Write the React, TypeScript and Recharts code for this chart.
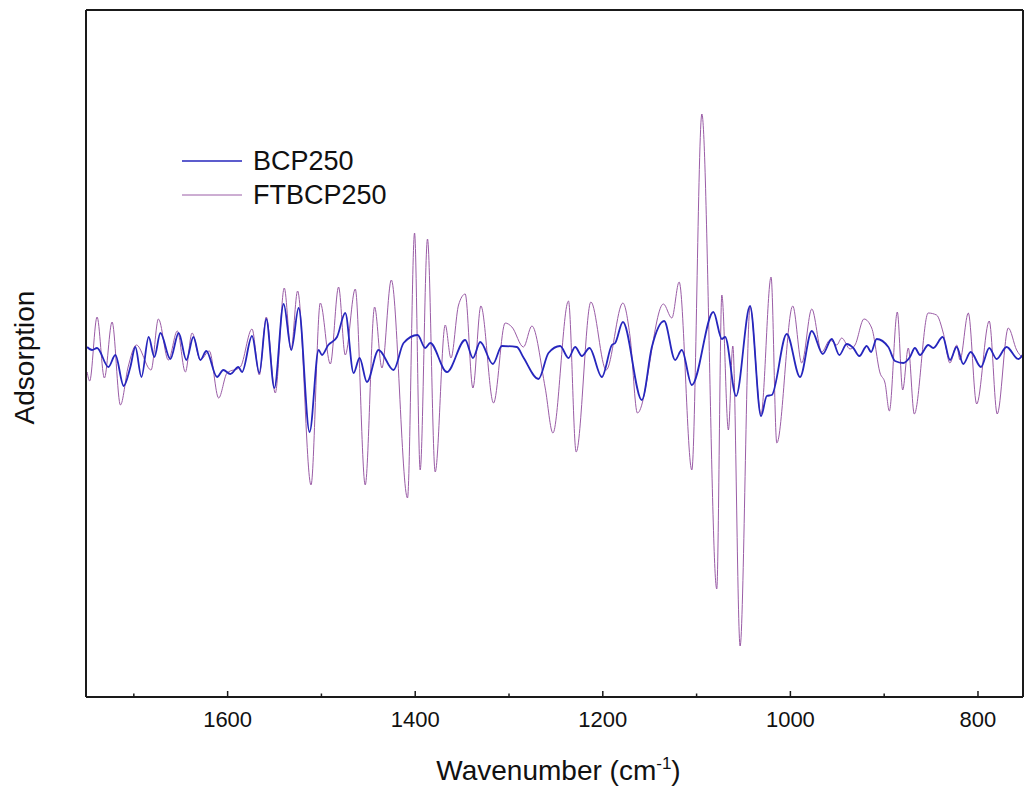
import React from 'react';
import { LineChart, Line, XAxis, YAxis, Legend } from 'recharts';

// BCP250 spectrum (wavenumber in cm^-1, relative absorption)
const bcpWavenumbers = [
  1749.8, 1744.5, 1739.2, 1727.1, 1719.7, 1710.8, 1703.7, 1698.4, 1691.9, 1684.2,
  1678.1, 1671.7, 1661.1, 1652.2, 1644.0, 1636.5, 1629.1, 1622.7, 1611.3, 1604.6,
  1597.1, 1588.6, 1584.6, 1574.0, 1566.2, 1558.8, 1550.2, 1540.3, 1532.1, 1524.3,
  1512.6, 1503.0, 1499.4, 1492.7, 1483.4, 1474.6, 1465.7, 1459.3, 1451.5, 1439.1,
  1423.1, 1412.4, 1397.5, 1389.3, 1384.0, 1366.2, 1346.7, 1338.5, 1330.7, 1317.2,
  1307.6, 1291.6, 1284.9, 1268.6, 1257.9, 1245.5, 1236.6, 1229.5, 1222.3, 1214.2,
  1201.0, 1190.3, 1186.8, 1178.6, 1158.4, 1147.7, 1134.6, 1122.9, 1115.8, 1105.1,
  1082.1, 1073.1, 1069.6, 1057.9, 1043.0, 1031.3, 1025.2, 1019.9, 1003.9, 989.7,
  977.2, 965.5, 955.9, 947.8, 940.0, 932.9, 926.5, 918.6, 914.0, 908.0,
  895.6, 888.5, 879.6, 872.5, 867.2, 861.8, 853.0, 847.6, 837.6, 829.8,
  822.7, 815.7, 807.8, 796.8, 788.0, 780.1, 769.5, 757.1, 752.4,
];
const bcpValues = [
  0.03, 0.0, 0.02, -0.17, -0.05, -0.36, -0.17, 0.03, -0.27, 0.13,
  -0.07, 0.17, -0.09, 0.17, -0.1, 0.13, -0.1, -0.01, -0.27, -0.2,
  -0.24, -0.17, -0.22, 0.14, -0.23, 0.31, -0.38, 0.46, 0.0, 0.42,
  -0.82, 0.0, -0.05, 0.05, 0.13, 0.37, -0.23, -0.08, -0.32, 0.0,
  -0.2, 0.07, 0.15, 0.02, 0.07, -0.22, 0.1, -0.08, 0.08, -0.14,
  0.04, 0.03, -0.07, -0.29, -0.03, 0.04, -0.08, 0.03, -0.06, 0.02,
  -0.27, 0.05, 0.07, 0.28, -0.5, 0.03, 0.29, -0.1, 0.0, -0.35,
  0.38, 0.11, 0.13, -0.46, 0.44, -0.66, -0.46, -0.45, 0.16, -0.27,
  0.19, -0.04, 0.11, -0.05, 0.06, 0.02, -0.06, 0.04, -0.02, 0.11,
  0.03, -0.11, -0.13, -0.07, 0.02, -0.05, 0.05, 0.02, 0.13, -0.1,
  0.03, -0.14, -0.02, -0.17, 0.02, -0.09, 0.03, -0.09, -0.05,
];

// FTBCP250 spectrum
const ftWavenumbers = [
  1749.8, 1747.1, 1739.2, 1731.4, 1723.2, 1714.3, 1706.1, 1697.3, 1681.6, 1673.8,
  1663.2, 1653.6, 1645.1, 1637.9, 1629.1, 1619.5, 1609.6, 1600.6, 1586.5, 1574.0,
  1566.2, 1558.8, 1549.2, 1539.6, 1532.4, 1525.4, 1511.1, 1501.2, 1490.5, 1481.7,
  1474.6, 1463.9, 1453.3, 1443.3, 1435.5, 1425.5, 1408.2, 1400.7, 1394.7, 1386.9,
  1378.7, 1368.0, 1361.9, 1353.8, 1346.7, 1338.5, 1330.0, 1316.5, 1304.1, 1296.9,
  1284.6, 1275.6, 1261.4, 1253.2, 1236.6, 1228.4, 1212.7, 1196.4, 1178.6, 1170.9,
  1163.1, 1135.4, 1126.4, 1118.6, 1105.1, 1094.4, 1078.5, 1073.1, 1066.1, 1061.4,
  1053.6, 1043.0, 1031.3, 1020.6, 1014.5, 997.5, 987.9, 977.2, 966.6, 957.7,
  950.6, 945.3, 936.4, 931.1, 921.5, 913.3, 904.4, 899.1, 894.5, 886.0,
  880.3, 874.3, 867.9, 853.1, 844.2, 837.0, 829.9, 822.7, 819.2, 810.3,
  801.4, 788.0, 779.5, 767.7, 758.8, 752.4,
];
const ftValues = [
  -0.22, -0.31, 0.33, -0.28, 0.28, -0.55, -0.17, 0.05, -0.2, 0.31,
  -0.1, 0.19, -0.22, 0.17, -0.1, -0.01, -0.48, -0.23, -0.17, 0.21,
  -0.25, 0.33, -0.43, 0.62, 0.0, 0.59, -1.35, 0.47, -0.14, 0.63,
  -0.05, 0.61, -1.35, 0.43, -0.18, 0.7, -1.48, 1.17, -1.2, 1.11,
  -1.22, 0.25, -0.08, 0.45, 0.56, -0.38, 0.44, -0.53, 0.27, 0.23,
  0.03, 0.24, -0.38, -0.83, 0.49, -1.02, 0.48, -0.2, 0.47, 0.13,
  -0.63, 0.46, 0.32, 0.68, -1.2, 2.36, -2.39, 0.55, -0.8, 0.04,
  -2.96, 0.43, -0.64, 0.73, -0.93, 0.44, -0.13, 0.41, -0.02, 0.1,
  0.05, 0.12, 0.01, 0.05, 0.31, 0.22, -0.23, -0.33, -0.61, 0.38,
  -0.4, 0.02, -0.64, 0.37, 0.35, 0.17, -0.13, 0.05, -0.1, 0.37,
  -0.54, 0.29, -0.64, 0.22, 0.0, -0.08,
];

const xTicks = [1700, 1600, 1500, 1400, 1300, 1200, 1100, 1000, 900, 800];
const labeledTicks = [1600, 1400, 1200, 1000, 800];
const xDomain = [752, 1751];
const yDomain = [-3.47, 3.4];
const seriesNames = ['BCP250', 'FTBCP250'];
const seriesColors = ['#2626bd', '#9a5ca6'];
const seriesWidths = [1.8, 1];

const bcpData = bcpWavenumbers.map((wn, i) => ({ wn, v: bcpValues[i] }));
const ftData = ftWavenumbers.map((wn, i) => ({ wn, v: ftValues[i] }));

const FONT = '"Liberation Sans", Arial, sans-serif';
const AXIS = '#1a1a1a';

const XTick = (props: any) => {
  const { x, y, payload } = props;
  const major = labeledTicks.includes(payload.value);
  return (
    <g>
      <line x1={x} x2={x} y1={y} y2={y - (major ? 6 : 3.5)} stroke={AXIS} strokeWidth={1.5} />
      {major && (
        <text x={x} y={y + 30} textAnchor="middle" fontSize={22} fill="#111" fontFamily={FONT}>
          {payload.value}
        </text>
      )}
    </g>
  );
};

const XTitle = (props: any) => {
  const vb = props.viewBox || { x: 86, y: 697, width: 937 };
  const cx = vb.x + vb.width / 2 + 4;
  return (
    <text x={cx} y={vb.y + 83} textAnchor="middle" fontSize={28} fill="#111" fontFamily={FONT}>
      Wavenumber (cm
      <tspan dy={-11} fontSize={17}>-1</tspan>
      <tspan dy={11}>)</tspan>
    </text>
  );
};

const YTitle = (props: any) => {
  const vb = props.viewBox || { x: 85, y: 10, width: 1, height: 687 };
  const cx = vb.x + vb.width - 62;
  const cy = vb.y + vb.height / 2 + 4;
  return (
    <text
      x={cx}
      y={cy}
      transform={`rotate(-90 ${cx} ${cy})`}
      textAnchor="middle"
      dominantBaseline="central"
      fontSize={28}
      fill="#111"
      fontFamily={FONT}
    >
      Adsorption
    </text>
  );
};

const LegendContent = () => (
  <div style={{ fontFamily: FONT, fontSize: 27, color: '#111' }}>
    {seriesNames.map((name, i) => (
      <div key={name} style={{ display: 'flex', alignItems: 'center', height: 34 }}>
        <svg width={60} height={4} style={{ display: 'block' }}>
          <line x1={0} x2={60} y1={2} y2={2} stroke={seriesColors[i]} strokeWidth={seriesWidths[i] > 1 ? 1.5 : 1} />
        </svg>
        <span style={{ marginLeft: 11, lineHeight: '34px' }}>{name}</span>
      </div>
    ))}
  </div>
);

export default function App() {
  return (
    <div style={{ position: 'absolute', left: 0, top: 0, width: 1029, height: 792, background: '#fff' }}>
      <LineChart width={1029} height={792} margin={{ top: 9, right: 5, bottom: 0, left: 85 }}>
        <XAxis
          type="number"
          dataKey="wn"
          domain={xDomain}
          reversed
          allowDataOverflow
          ticks={xTicks}
          interval={0}
          tickSize={0}
          tickMargin={0}
          tickLine={false}
          tick={<XTick />}
          height={95}
          axisLine={{ stroke: AXIS, strokeWidth: 2 }}
          label={<XTitle />}
        />
        <XAxis
          xAxisId="top"
          orientation="top"
          type="number"
          dataKey="wn"
          domain={xDomain}
          reversed
          allowDataOverflow
          height={1}
          tick={false}
          tickLine={false}
          axisLine={{ stroke: AXIS, strokeWidth: 2 }}
        />
        <YAxis
          type="number"
          domain={yDomain}
          allowDataOverflow
          width={1}
          tick={false}
          tickLine={false}
          axisLine={{ stroke: AXIS, strokeWidth: 2 }}
          label={<YTitle />}
        />
        <YAxis
          yAxisId="right"
          orientation="right"
          type="number"
          domain={yDomain}
          allowDataOverflow
          width={1}
          tick={false}
          tickLine={false}
          axisLine={{ stroke: AXIS, strokeWidth: 2 }}
        />
        <Legend
          layout="horizontal"
          verticalAlign="middle"
          align="center"
          content={<LegendContent />}
          wrapperStyle={{ position: 'absolute', left: 182, top: 144, width: 260, height: 70 }}
        />
        <Line
          data={ftData}
          dataKey="v"
          name={seriesNames[1]}
          type="monotone"
          stroke={seriesColors[1]}
          strokeWidth={seriesWidths[1]}
          dot={false}
          activeDot={false}
          isAnimationActive={false}
        />
        <Line
          data={bcpData}
          dataKey="v"
          name={seriesNames[0]}
          type="monotone"
          stroke={seriesColors[0]}
          strokeWidth={seriesWidths[0]}
          dot={false}
          activeDot={false}
          isAnimationActive={false}
        />
      </LineChart>
    </div>
  );
}
